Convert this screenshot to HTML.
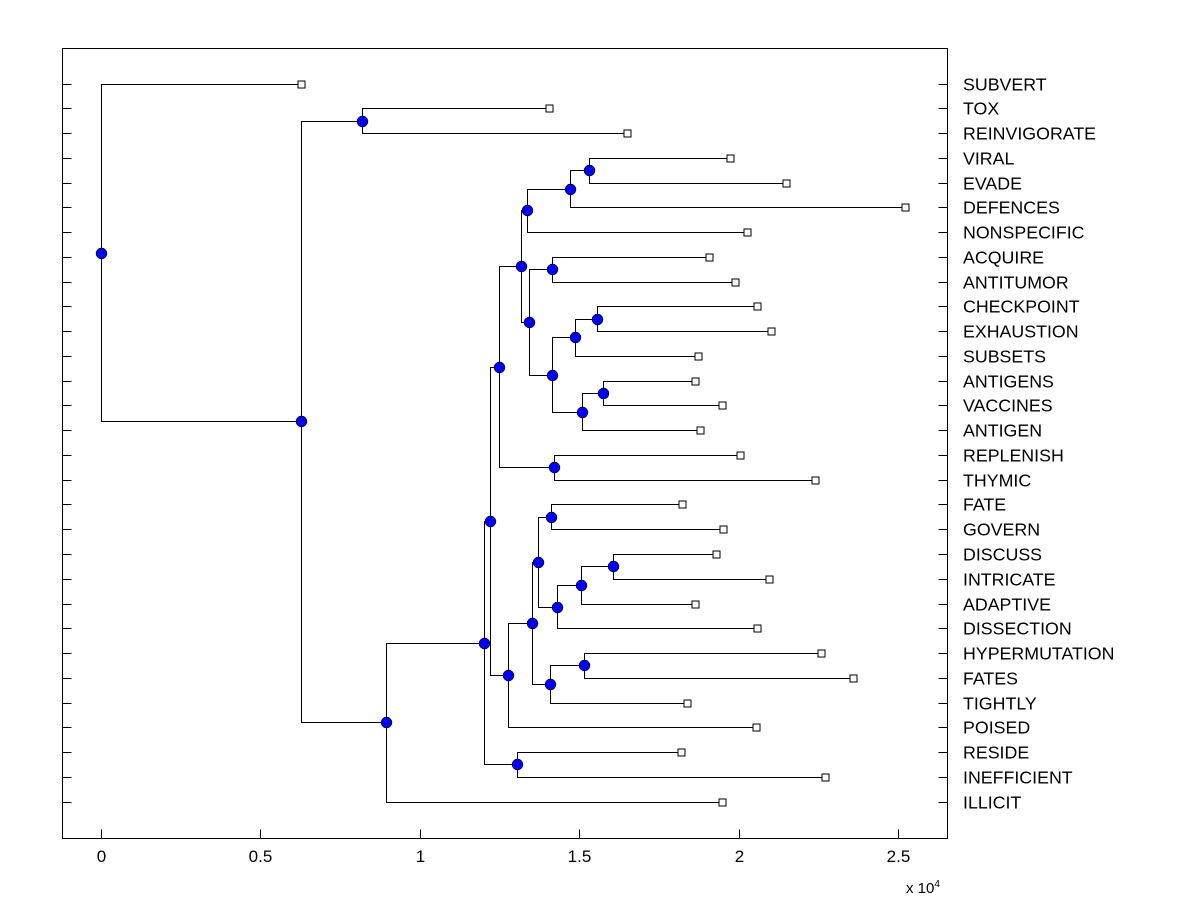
<!DOCTYPE html>
<html><head><meta charset="utf-8"><style>
body{margin:0;background:#fff}
svg{display:block;font-family:"Liberation Sans",Arial,sans-serif}
</style></head><body>
<svg id="chart" width="1200" height="900" viewBox="0 0 1200 900" xmlns="http://www.w3.org/2000/svg">
<rect x="62.5" y="48.5" width="885" height="790" fill="#fff" stroke="#000" stroke-width="1"/>
<g id="axes"></g><g id="links"></g><g id="marks"></g>
<text x="906" y="893" font-size="15">x 10<tspan font-size="10" dy="-6">4</tspan></text>
</svg>
<script>
const leafNames=["SUBVERT","TOX","REINVIGORATE","VIRAL","EVADE","DEFENCES","NONSPECIFIC","ACQUIRE","ANTITUMOR","CHECKPOINT","EXHAUSTION","SUBSETS","ANTIGENS","VACCINES","ANTIGEN","REPLENISH","THYMIC","FATE","GOVERN","DISCUSS","INTRICATE","ADAPTIVE","DISSECTION","HYPERMUTATION","FATES","TIGHTLY","POISED","RESIDE","INEFFICIENT","ILLICIT"];
const leafHeights=[0.627,1.404,1.651,1.971,2.149,2.522,2.027,1.905,1.989,2.058,2.102,1.873,1.864,1.946,1.877,2.002,2.240,1.823,1.949,1.927,2.093,1.864,2.058,2.256,2.356,1.839,2.055,1.820,2.271,1.946];
const mergeLeft=[1,3,31,32,7,9,35,12,37,36,34,33,15,41,17,19,45,46,44,23,49,48,51,43,27,53,55,30,0];
const mergeRight=[2,4,5,6,8,10,11,13,14,38,39,40,16,42,18,20,21,22,47,24,25,50,26,52,28,54,29,56,57];
const mergeHeights=[0.818,1.529,1.472,1.335,1.413,1.557,1.488,1.573,1.510,1.416,1.341,1.316,1.422,1.250,1.410,1.607,1.504,1.429,1.372,1.516,1.407,1.353,1.278,1.219,1.306,1.200,0.896,0.627,0];
const xTicks=[0,0.5,1,1.5,2,2.5];
const xTickLabels=["0","0.5","1","1.5","2","2.5"];

const NS="http://www.w3.org/2000/svg";
const X0=-0.1222,X1=2.6505,PL=62.5,PR=947.5,PT=48.5,PB=838.5;
const xs=v=>PL-1+(v-X0)/(X1-X0)*(PR-PL);
const ys=i=>83.6+i*(802-84)/(leafNames.length-1);
function mk(tag,attrs,parent){const e=document.createElementNS(NS,tag);for(const k in attrs)e.setAttribute(k,attrs[k]);parent.appendChild(e);return e;}
const axes=document.getElementById('axes'),links=document.getElementById('links'),marks=document.getElementById('marks');

xTicks.forEach((t,i)=>{
  const x=Math.round(xs(t))+0.5;
  const tk=mk('line',{x1:x,x2:x,y1:PB,y2:PB-9,stroke:'#000'},axes);
  
  
  const tl=mk('text',{x:x,y:862,'font-size':17,'text-anchor':'middle'},axes);
  tl.textContent=xTickLabels[i];
  
  
});
leafNames.forEach((n,i)=>{
  const y=Math.round(ys(i))+0.5;
  const a=mk('line',{x1:PL,x2:PL+9,y1:y,y2:y,stroke:'#000'},axes);
  
  
  const b=mk('line',{x1:PR,x2:PR-9,y1:y,y2:y,stroke:'#000'},axes);
  
  
  const t=mk('text',{x:963,y:y+6,'font-size':17.8},axes);
  t.textContent=n;
  
  
});
const nodeX=[],nodeY=[];
leafNames.forEach((n,i)=>{nodeX[i]=leafHeights[i];nodeY[i]=ys(i);});
mergeLeft.forEach((l,k)=>{
  const r=mergeRight[k],id=leafNames.length+k,h=mergeHeights[k];
  nodeX[id]=h;nodeY[id]=(nodeY[l]+nodeY[r])/2;
  const x=Math.round(xs(h))+0.5;
  const p=mk('path',{d:`M${Math.round(xs(nodeX[l]))+0.5},${Math.round(nodeY[l])+0.5}H${x}V${Math.round(nodeY[r])+0.5}H${Math.round(xs(nodeX[r]))+0.5}`,fill:'none',stroke:'#000'},links);
  
  
});
leafNames.forEach((n,i)=>{
  const s=mk('rect',{x:Math.round(xs(nodeX[i]))-3,y:Math.round(nodeY[i])-3,width:7,height:7,fill:'#fff',stroke:'#000'},marks);
  
  
});
mergeHeights.forEach((h,k)=>{
  const id=leafNames.length+k;
  const c=mk('circle',{cx:Math.round(xs(h))+0.5,cy:Math.round(nodeY[id])+0.5,r:5.3,fill:'#0000ff',stroke:'#000020','stroke-width':0.8},marks);
  
  
});
</script>
</body></html>
